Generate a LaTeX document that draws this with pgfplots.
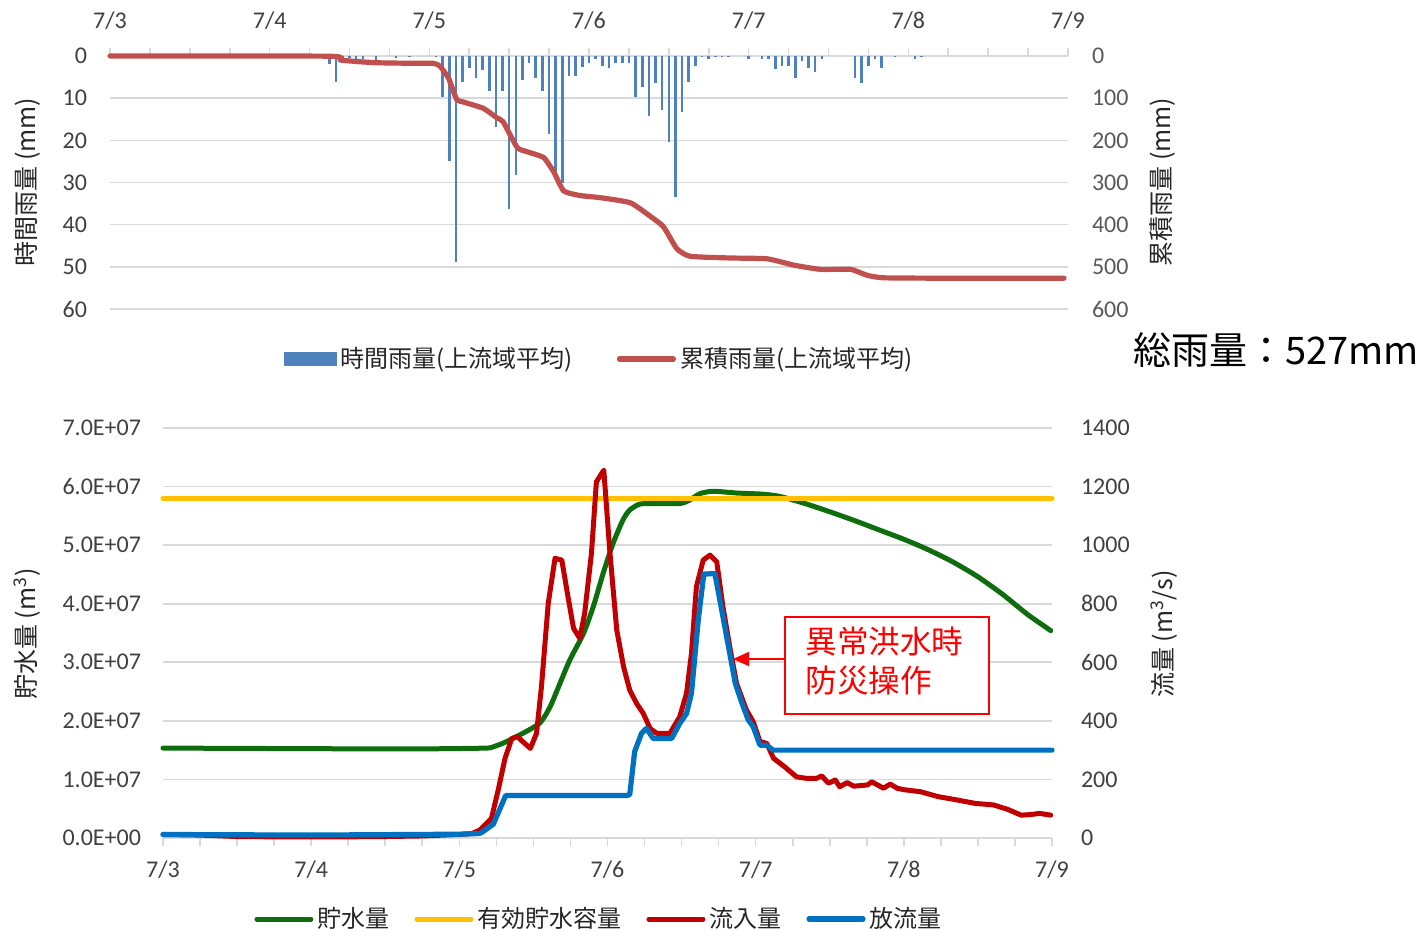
\documentclass[border=0pt]{standalone}
\usepackage{fontspec}
\usepackage{pgfplots}
\pgfplotsset{compat=1.18}
\usetikzlibrary{arrows.meta}
\setmainfont{Carlito}
\newfontfamily\jp{Noto Sans CJK JP}

\definecolor{barblue}{HTML}{4F81BD}
\definecolor{cumred}{HTML}{C0504D}
\definecolor{stgreen}{HTML}{0E6E0E}
\definecolor{capyellow}{HTML}{FFC000}
\definecolor{inred}{HTML}{C00000}
\definecolor{outblue}{HTML}{0070C0}
\definecolor{gridgray}{HTML}{D9D9D9}
\definecolor{ticktext}{HTML}{404040}
\definecolor{ticktextR}{HTML}{595959}
\definecolor{legtext}{HTML}{262626}
\definecolor{noteRed}{HTML}{FF0000}

\pgfplotstableread{
h mm
33 2.0
34 6.2
35 0.5
36 0.5
37 0.8
38 0.8
40 1.0
43 0.5
45 0.3
49 0.3
50 9.8
51 24.9
52 48.9
53 6.2
54 2.8
55 5.3
56 3.3
57 8.2
58 16.8
59 8.2
60 36.3
61 28.3
62 5.7
63 1.7
64 5.3
65 8.2
66 18.4
67 28.3
68 30.2
69 4.7
70 4.7
71 2.7
72 1.7
73 0.8
74 2.3
75 2.8
76 1.7
77 1.7
78 1.7
79 9.8
80 7.3
81 14.3
82 6.3
83 12.8
84 20.4
85 33.4
86 13.2
87 6.2
88 2.3
89 0.3
90 0.8
91 0.3
92 0.3
93 0.3
96 0.8
98 0.8
99 0.8
100 3.2
101 2.3
102 2.3
103 5.3
104 1.3
105 2.8
106 3.7
107 0.8
112 5.3
113 6.3
114 2.3
115 0.8
116 2.8
118 0.3
121 0.8
122 0.3
}\hourly

\pgfplotstableread{
h mm
0 0
33 0.5
34.6 9.5
37 13
40.1 16
44 17
48.6 17.4
49.6 24
50.9 53
52.1 103
53.1 109
56.1 124
58.2 147
59.1 156
61.2 217
62.7 227
65.2 241
66.7 275
68.2 320
70.7 331
73.7 336
78.2 348
81.2 380
83.2 405
85.2 457
87.2 475
93.2 479
98.8 481
102.8 496
106.8 506
111.3 506
113.8 520
116.3 526
125.8 527
143.4 527
}\cumul

\pgfplotstableread{
h S
0 15350000
24 15250000
40 15200000
50 15300000
52 15350000
53 15400000
55.1 16200000
57.8 17600000
61 19600000
62.7 22400000
64.3 26400000
65.9 30400000
68.1 34900000
69.7 39500000
71.3 45200000
72.9 50300000
74.5 54300000
75.6 56000000
77.2 57000000
79.4 57100000
83.7 57100000
85.3 57700000
87 58800000
89.1 59200000
92.9 58900000
97.2 58700000
100 58300000
104 57100000
108 55700000
112 54200000
116 52600000
120 51000000
124 49200000
128 47100000
132 44600000
136 41600000
140 38200000
143.8 35400000
}\storage

\pgfplotstableread{
h S
0 58000000
144 58000000
}\capacity

\pgfplotstableread{
h Q
0 12
6 10
12 5
18 4
24 4
30 4
36 5
42 7
48 12
50 15
51.3 27
53.2 67
54.3 164
55.4 272
56.5 340
57.4 346
58.6 323
59.5 306
60.5 357
61.3 516
62.4 801
63.5 955
64.6 949
65.6 824
66.5 716
67.5 682
68.3 767
69.4 972
70.2 1216
71.4 1256
72.4 972
73.5 710
74.6 585
75.6 505
76.7 460
77.8 425
78.9 374
80 357
82.1 357
83.7 414
84.8 494
85.6 630
86.4 858
87.5 949
88.6 966
89.7 943
90.7 789
91.8 653
92.9 528
94.5 437
95.6 397
96.7 329
97.8 323
98.9 272
100.7 243
102.6 209
104.1 204
105.9 204
106.7 212
107.8 187
108.9 198
109.6 175
110.8 189
111.9 177
114.1 181
114.8 192
116.7 170
117.8 184
118.9 170
120 165
122.7 158
125.6 141
128.6 130
131.6 118
134.5 113
136.8 98
139 78
140.5 80
142 84
143.8 78
}\inflow

\pgfplotstableread{
h Q
0 12
24 10
48 13
50.9 15
51.5 17
53.5 47
55.5 145
56 145
75.1 145
75.6 148
76.4 295
77.5 357
78.3 374
79.4 340
82.4 340
83.7 391
84.8 425
85.6 494
86.7 744
87.6 901
89.4 903
90.5 778
91.6 653
92.7 528
93.7 465
94.8 403
95.6 380
96.7 317
97.8 317
98.8 300
144 300
}\outflow

\pgfplotsset{
  chartbase/.style={
    scale only axis, clip=false,
    axis line style={draw=none},
    tick label style={font=\fontsize{12}{13}\selectfont, text=ticktext},
    /pgf/number format/assume math mode=true,
    /pgf/number format/set thousands separator={},
    y tick style={draw=none},
    x tick style={draw=gridgray, line width=0.8pt},
    major tick length=4pt, minor tick length=4pt,
    tick align=outside,
    xmin=0, xmax=144,
    scaled y ticks=false,
    major grid style={draw=gridgray, line width=0.8pt},
  },
}

\begin{document}
\begin{tikzpicture}
\useasboundingbox (0pt,0pt) rectangle (712.5pt,-465.5pt);

% ---------- top chart: hourly rainfall ----------
\begin{axis}[chartbase,
  at={(55pt,-28pt)}, anchor=north west,
  width=479pt, height=126.5pt,
  ymin=0, ymax=60, y dir=reverse,
  xtick={0,24,...,144}, xticklabels={7/3,7/4,7/5,7/6,7/7,7/8,7/9},
  minor x tick num=3,
  xtick pos=right, xticklabel pos=right,
  xticklabel style={yshift=5.5pt},
  ytick={0,10,...,60}, ytick pos=left, yticklabel pos=left,
  yticklabel style={xshift=-4pt},
  ymajorgrids,
]
\addplot[ycomb, draw=barblue, line width=1.3pt] table[x=h,y=mm] {\hourly};
\end{axis}

% ---------- top chart: cumulative rainfall ----------
\begin{axis}[chartbase,
  at={(55pt,-28pt)}, anchor=north west,
  width=479pt, height=126.5pt,
  ymin=0, ymax=600, y dir=reverse,
  xtick=\empty,
  ytick={0,100,...,600}, ytick pos=right, yticklabel pos=right,
  yticklabel style={text=ticktextR, xshift=4.5pt},
  legend columns=-1,
  legend cell align=left,
  legend image code/.code={\draw[#1] (0pt,0pt) -- (27pt,0pt);},
  legend style={at={(0.5115,-0.1976)}, anchor=center, draw=none, fill=none,
    inner sep=0pt, nodes={inner sep=2pt},
    font=\jp\fontsize{12}{14}\selectfont, text=legtext,
    /tikz/every even column/.append style={column sep=20pt}},
]
\addlegendimage{legend image code/.code={\fill[barblue] (0pt,-3.3pt) rectangle (26pt,3.3pt);}}
\addlegendentry{時間雨量(上流域平均)}
\addplot[draw=cumred, line width=2.6pt, line join=round, line cap=round, smooth, tension=0.3] table[x=h,y=mm] {\cumul};
\addlegendentry{累積雨量(上流域平均)}
\end{axis}

% ---------- bottom chart: storage ----------
\begin{axis}[chartbase,
  at={(81.5pt,-214pt)}, anchor=north west,
  width=444.5pt, height=205pt,
  ymin=0, ymax=70000000,
  xtick={0,24,...,144}, xticklabels={7/3,7/4,7/5,7/6,7/7,7/8,7/9},
  minor x tick num=3,
  xtick pos=left, xticklabel pos=left,
  xticklabel style={yshift=-4pt},
  ytick={0,10000000,20000000,30000000,40000000,50000000,60000000,70000000},
  yticklabels={0.0E+00,1.0E+07,2.0E+07,3.0E+07,4.0E+07,5.0E+07,6.0E+07,7.0E+07},
  ytick pos=left, yticklabel pos=left,
  yticklabel style={xshift=-3.5pt},
  ymajorgrids,
]
\addplot[draw=stgreen, line width=2.5pt, line join=round, line cap=round, smooth, tension=0.4] table[x=h,y=S] {\storage};
\addplot[draw=capyellow, line width=2.5pt, line cap=round] table[x=h,y=S] {\capacity};
\end{axis}

% ---------- bottom chart: flows ----------
\begin{axis}[chartbase,
  at={(81.5pt,-214pt)}, anchor=north west,
  width=444.5pt, height=205pt,
  ymin=0, ymax=1400,
  xtick=\empty,
  ytick={0,200,...,1400}, ytick pos=right, yticklabel pos=right,
  yticklabel style={xshift=7pt},
  legend columns=-1,
  legend cell align=left,
  legend image code/.code={\draw[#1] (0pt,0pt) -- (27pt,0pt);},
  legend style={at={(0.4916,-0.1976)}, anchor=center, draw=none, fill=none,
    inner sep=0pt, nodes={inner sep=2pt},
    font=\jp\fontsize{12}{14}\selectfont, text=legtext,
    /tikz/every even column/.append style={column sep=10.5pt}},
]
\addlegendimage{draw=stgreen, line width=2.5pt, line cap=round}
\addlegendentry{貯水量}
\addlegendimage{draw=capyellow, line width=2.5pt, line cap=round}
\addlegendentry{有効貯水容量}
\addplot[draw=inred, line width=2.5pt, line join=round, line cap=round] table[x=h,y=Q] {\inflow};
\addlegendentry{流入量}
\addplot[draw=outblue, line width=2.6pt, line join=round, line cap=round] table[x=h,y=Q] {\outflow};
\addlegendentry{放流量}
\end{axis}

% ---------- axis titles and notes ----------
\node[rotate=90, font=\jp\fontsize{12.5}{14}\selectfont, text=legtext] at (13.5pt,-91pt) {時間雨量 (mm)};
\node[rotate=90, font=\jp\fontsize{12.5}{14}\selectfont, text=legtext] at (581pt,-91pt) {累積雨量 (mm)};
\node[rotate=90, font=\jp\fontsize{12.5}{14}\selectfont, text=legtext] at (13.5pt,-317pt) {貯水量 (m\textsuperscript{3})};
\node[rotate=90, font=\jp\fontsize{12.5}{14}\selectfont, text=legtext] at (582pt,-317pt) {流量 (m\textsuperscript{3}/s)};
\node[anchor=west, inner sep=0pt, font=\jp\fontsize{19}{21}\selectfont, text=black] at (566.5pt,-175pt) {総雨量：527mm};

\draw[noteRed, line width=0.8pt, fill=white] (392.5pt,-308.5pt) rectangle (494.5pt,-357pt);
\draw[noteRed, line width=0.8pt, -{Triangle[length=8pt,width=7pt]}] (392.5pt,-329.5pt) -- (366.5pt,-329.5pt);
\node[anchor=west, inner sep=0pt, font=\jp\fontsize{15.8}{18}\selectfont, text=noteRed] at (402.5pt,-321pt) {異常洪水時};
\node[anchor=west, inner sep=0pt, font=\jp\fontsize{15.8}{18}\selectfont, text=noteRed] at (402.5pt,-340.5pt) {防災操作};
\end{tikzpicture}
\end{document}
